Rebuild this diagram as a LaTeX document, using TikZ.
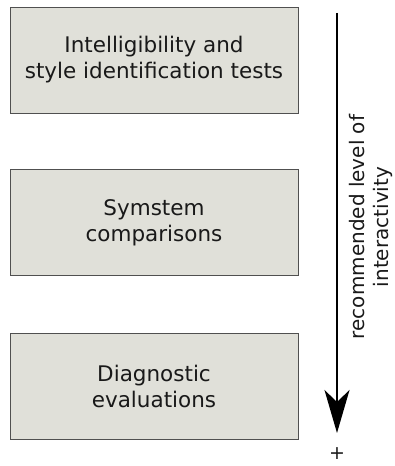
\documentclass[tikz,border=0pt]{standalone}
\usepackage{fontspec}
\setmainfont{DejaVu Sans}
\usetikzlibrary{arrows.meta}
\definecolor{boxfill}{RGB}{224,224,217}
\definecolor{boxline}{RGB}{80,80,80}
\definecolor{txt}{RGB}{25,25,25}
\tikzset{
  stagebox/.style={draw=boxline, line width=0.9bp, fill=boxfill, minimum width=288bp, minimum height=106bp, inner sep=0pt, align=center, text=txt, font=\fontsize{21.5bp}{26bp}\selectfont},
  lbl/.style={align=center, text=txt, inner sep=0pt, font=\fontsize{20bp}{24.5bp}\selectfont},
  bigarrow/.style={line width=2.2bp, -{Stealth[length=43bp, width=25bp, inset=12bp]}}
}
\begin{document}
\begin{tikzpicture}[x=1bp, y=-1bp]
\useasboundingbox (0,0) rectangle (394,466);
\node[stagebox] (b1) at (154,60) {Intelligibility and\\style identification tests};
\node[stagebox] (b2) at (154,222.5) {Symstem\\comparisons};
\node[stagebox] (b3) at (154,386) {Diagnostic\\evaluations};
\coordinate (atop) at (337,13);
\coordinate (abot) at (337,433);
\draw[bigarrow] (atop) -- (abot);
\node[lbl, rotate=90] (rl) at (371,227) {recommended level of\\interactivity};
\node[lbl, font=\fontsize{19bp}{22bp}\selectfont] (plus) at (337,454) {+};
\end{tikzpicture}
\end{document}
